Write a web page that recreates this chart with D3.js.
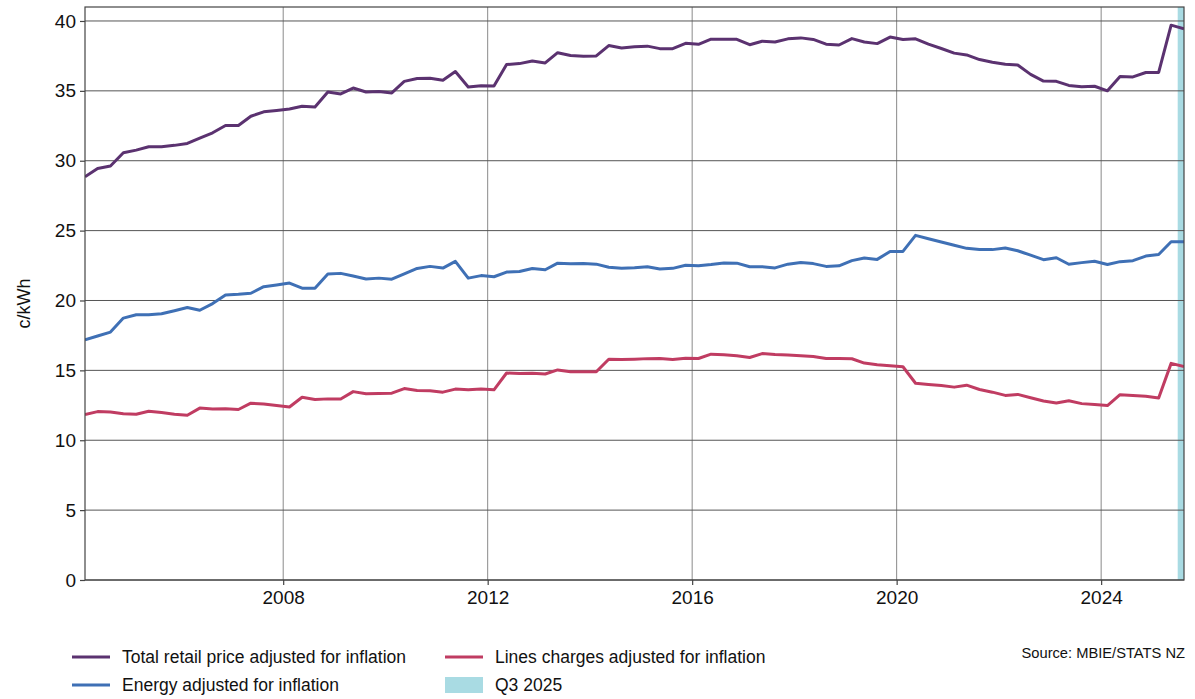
<html>
<head>
<meta charset="utf-8">
<script src="https://d3js.org/d3.v7.min.js"></script>
<style>
  body { margin: 0; background: #fff; }
  svg { font-family: "Liberation Sans", Arial, sans-serif; }
</style>
</head>
<body>
<svg id="chart" width="1195" height="699"></svg>
<script>
// quarterly series, Q1 2004 .. Q3 2025 (c/kWh, adjusted for inflation)
var startYear = 2004;
var totalRetail = [28.85,29.45,29.62,30.57,30.76,31.0,31.0,31.1,31.24,31.62,32.0,32.52,32.52,33.18,33.5,33.6,
  33.7,33.9,33.85,34.92,34.78,35.2,34.92,34.95,34.85,35.68,35.88,35.9,35.76,36.38,35.28,35.37,
  35.34,36.88,36.95,37.14,37.0,37.73,37.53,37.48,37.5,38.24,38.07,38.15,38.2,38.02,38.02,38.4,
  38.33,38.7,38.7,38.69,38.3,38.55,38.5,38.72,38.79,38.68,38.34,38.28,38.74,38.5,38.38,38.85,
  38.67,38.72,38.34,38.03,37.7,37.57,37.24,37.05,36.9,36.85,36.18,35.7,35.68,35.39,35.29,35.33,
  35.0,36.02,36.0,36.31,36.32,39.7,39.44];
var energy = [17.18,17.46,17.74,18.74,18.98,18.98,19.05,19.27,19.5,19.3,19.78,20.4,20.45,20.52,20.99,21.11,
  21.25,20.88,20.88,21.9,21.94,21.75,21.54,21.6,21.52,21.9,22.29,22.44,22.32,22.8,21.6,21.78,
  21.7,22.03,22.08,22.29,22.2,22.67,22.63,22.64,22.6,22.38,22.3,22.34,22.41,22.25,22.3,22.52,
  22.48,22.57,22.69,22.67,22.41,22.42,22.33,22.6,22.72,22.64,22.44,22.48,22.85,23.04,22.94,23.51,
  23.51,24.66,24.42,24.18,23.95,23.73,23.64,23.64,23.76,23.56,23.24,22.92,23.06,22.59,22.71,22.81,
  22.57,22.78,22.85,23.18,23.29,24.2,24.2];
var linesCharges = [11.84,12.05,12.02,11.9,11.86,12.08,11.98,11.86,11.79,12.3,12.24,12.25,12.2,12.65,12.6,12.48,
  12.38,13.08,12.92,12.96,12.95,13.48,13.32,13.35,13.37,13.7,13.56,13.54,13.44,13.66,13.61,13.66,
  13.61,14.81,14.78,14.8,14.74,15.03,14.9,14.9,14.9,15.8,15.78,15.8,15.84,15.85,15.78,15.87,
  15.85,16.16,16.11,16.04,15.92,16.2,16.13,16.1,16.04,15.99,15.85,15.85,15.83,15.52,15.4,15.33,
  15.26,14.08,13.99,13.92,13.8,13.94,13.63,13.44,13.21,13.28,13.04,12.81,12.67,12.83,12.62,12.55,
  12.48,13.26,13.2,13.15,13.02,15.5,15.28];
var yTicks = [0,5,10,15,20,25,30,35,40];
var xTickYears = [2008,2012,2016,2020,2024];
var seriesNames = ["Total retail price adjusted for inflation","Energy adjusted for inflation","Lines charges adjusted for inflation"];
var seriesColors = ["#5b3270","#3f70b5","#c03c62"];
var bandLabel = "Q3 2025";

// mid-quarter dates
var dates = totalRetail.map(function(d,i){ return new Date(startYear + Math.floor(i/4), (i%4)*3 + 1, 15); });
var series = [totalRetail, energy, linesCharges];

var m = {left:85, top:7, right:1184, bottom:580};
var svg = d3.select("#chart");

var x = d3.scaleTime().domain([dates[0], dates[dates.length-1]]).range([m.left, m.right]);
var y = d3.scaleLinear().domain([0,41]).range([m.bottom, m.top]);

svg.append("clipPath").attr("id","clip").append("rect")
  .attr("x",m.left).attr("y",m.top).attr("width",m.right-m.left).attr("height",m.bottom-m.top);

// Q3 2025 band
svg.append("rect").attr("clip-path","url(#clip)")
  .attr("x", x(new Date(2025,6,1))).attr("y", m.top)
  .attr("width", x(new Date(2025,9,1)) - x(new Date(2025,6,1)))
  .attr("height", m.bottom - m.top)
  .attr("fill", "#a9dbe3");

// grid
svg.append("g").selectAll("line").data(xTickYears).enter().append("line")
  .attr("x1", function(d){ return x(new Date(d,0,1)); })
  .attr("x2", function(d){ return x(new Date(d,0,1)); })
  .attr("y1", m.top).attr("y2", m.bottom)
  .attr("stroke", "#8a8a8a").attr("stroke-width", 1);
svg.append("g").selectAll("line").data(yTicks).enter().append("line")
  .attr("x1", m.left).attr("x2", m.right)
  .attr("y1", function(d){ return y(d); }).attr("y2", function(d){ return y(d); })
  .attr("stroke", "#555").attr("stroke-width", 1);

// lines
var line = d3.line().x(function(d,i){ return x(dates[i]); }).y(function(d){ return y(d); });
svg.append("g").attr("clip-path","url(#clip)").selectAll("path").data(series).enter().append("path")
  .attr("d", line)
  .attr("fill","none")
  .attr("stroke", function(d,i){ return seriesColors[i]; })
  .attr("stroke-width", 3)
  .attr("stroke-linejoin","round");

// frame
svg.append("rect").attr("x",m.left).attr("y",m.top).attr("width",m.right-m.left).attr("height",m.bottom-m.top)
  .attr("fill","none").attr("stroke","#444").attr("stroke-width",1.2);

// axes
var yAxis = svg.append("g").attr("transform","translate("+m.left+",0)")
  .call(d3.axisLeft(y).tickValues(yTicks).tickSize(5).tickPadding(4));
var xAxis = svg.append("g").attr("transform","translate(0,"+m.bottom+")")
  .call(d3.axisBottom(x).tickValues(xTickYears.map(function(d){ return new Date(d,0,1); }))
    .tickFormat(d3.timeFormat("%Y")).tickSize(5).tickPadding(6));
[yAxis, xAxis].forEach(function(a){
  a.select(".domain").remove();
  a.selectAll(".tick line").attr("stroke","#444").attr("stroke-width",1.2);
  a.selectAll("text").attr("font-size",19).attr("fill","#111").attr("font-family","Liberation Sans, Arial, sans-serif");
});

svg.append("text").attr("transform","translate(30,"+((m.top+m.bottom)/2+10)+") rotate(-90)")
  .attr("text-anchor","middle").attr("font-size",18).attr("fill","#111").text("c/kWh");

// legend
var legItems = [
  {name: seriesNames[0], color: seriesColors[0], x: 72, y: 657, type: "line"},
  {name: seriesNames[1], color: seriesColors[1], x: 72, y: 685, type: "line"},
  {name: seriesNames[2], color: seriesColors[2], x: 445, y: 657, type: "line"},
  {name: bandLabel, color: "#a9dbe3", x: 445, y: 685, type: "rect"}
];
var leg = svg.append("g").selectAll("g").data(legItems).enter().append("g")
  .attr("transform", function(d){ return "translate("+d.x+","+d.y+")"; });
leg.filter(function(d){ return d.type === "line"; }).append("line")
  .attr("x1",0).attr("x2",38).attr("y1",0).attr("y2",0)
  .attr("stroke", function(d){ return d.color; }).attr("stroke-width",3);
leg.filter(function(d){ return d.type === "rect"; }).append("rect")
  .attr("x",0).attr("y",-8).attr("width",38).attr("height",16)
  .attr("fill", function(d){ return d.color; });
leg.append("text").attr("x",50).attr("y",6).attr("font-size",17.5).attr("fill","#111")
  .text(function(d){ return d.name; });

svg.append("text").attr("x",1185).attr("y",658).attr("text-anchor","end")
  .attr("font-size",14.7).attr("fill","#111").text("Source: MBIE/STATS NZ");
</script>
</body>
</html>
